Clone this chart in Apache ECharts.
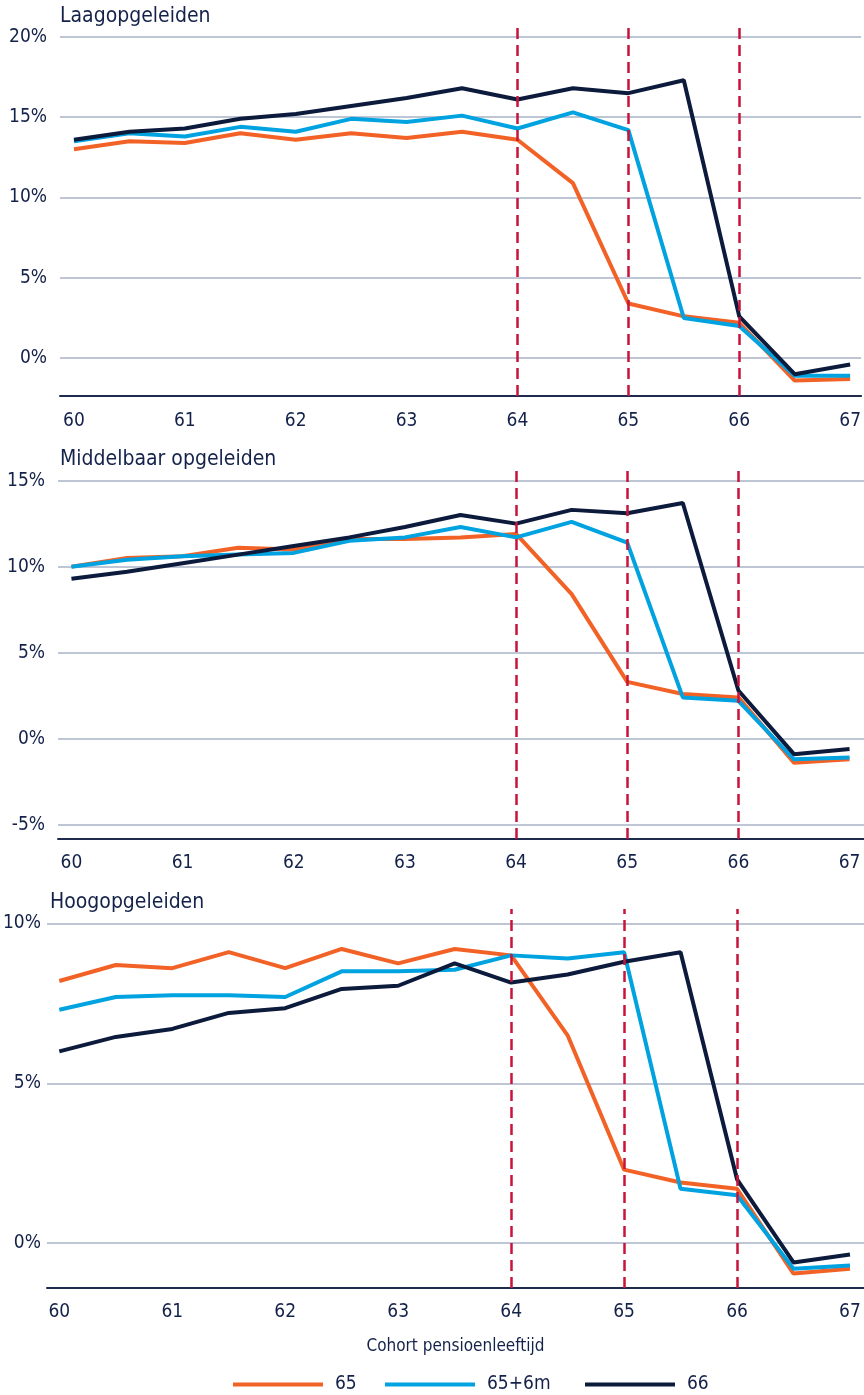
<!DOCTYPE html>
<html>
<head>
<meta charset="utf-8">
<script src="https://cdn.jsdelivr.net/npm/echarts@6/dist/echarts.min.js"></script>
<style>
  html, body { margin: 0; padding: 0; background: #fff; }
  #mychart { width: 864px; height: 1395px; }
</style>
</head>
<body>
<div id="mychart"></div>
<script>
  // leeftijden (cohort pensioenleeftijd), stappen van een half jaar
  const ages = [60, 60.5, 61, 61.5, 62, 62.5, 63, 63.5, 64, 64.5, 65, 65.5, 66, 66.5, 67]
  const cutoffs = [64, 65, 66] // rode stippellijnen
  const seriesNames = ['65', '65+6m', '66']
  const panelTitles = ['Laagopgeleiden', 'Middelbaar opgeleiden', 'Hoogopgeleiden']
  const xName = 'Cohort pensioenleeftijd'

  // Laagopgeleiden
  const laag65 = [13.0, 13.5, 13.4, 14.0, 13.6, 14.0, 13.7, 14.1, 13.6, 10.9, 3.4, 2.6, 2.2, -1.4, -1.3]
  const laag656m = [13.5, 14.0, 13.8, 14.4, 14.1, 14.9, 14.7, 15.1, 14.3, 15.3, 14.2, 2.5, 2.0, -1.1, -1.1]
  const laag66 = [13.6, 14.1, 14.3, 14.9, 15.2, 15.7, 16.2, 16.8, 16.1, 16.8, 16.5, 17.3, 2.6, -1.0, -0.4]

  // Middelbaar opgeleiden
  const midd65 = [10.0, 10.5, 10.6, 11.1, 11.0, 11.6, 11.6, 11.7, 11.9, 8.4, 3.3, 2.6, 2.4, -1.4, -1.2]
  const midd656m = [10.0, 10.4, 10.6, 10.7, 10.8, 11.5, 11.7, 12.3, 11.7, 12.6, 11.4, 2.4, 2.2, -1.2, -1.1]
  const midd66 = [9.3, 9.7, 10.2, 10.7, 11.2, 11.7, 12.3, 13.0, 12.5, 13.3, 13.1, 13.7, 2.8, -0.9, -0.6]

  // Hoogopgeleiden
  const hoog65 = [8.2, 8.7, 8.6, 9.1, 8.6, 9.2, 8.75, 9.2, 9.0, 6.5, 2.3, 1.9, 1.7, -0.95, -0.8]
  const hoog656m = [7.3, 7.7, 7.75, 7.75, 7.7, 8.5, 8.5, 8.55, 9.0, 8.9, 9.1, 1.7, 1.5, -0.8, -0.7]
  const hoog66 = [6.0, 6.45, 6.7, 7.2, 7.35, 7.95, 8.05, 8.75, 8.15, 8.4, 8.8, 9.1, 2.0, -0.6, -0.35]

  const panelData = [
    [laag65, laag656m, laag66],
    [midd65, midd656m, midd66],
    [hoog65, hoog656m, hoog66],
  ]

  const colors = ['#F26226', '#00A3E0', '#0C1A3C']
  const textColor = '#14224A'
  const font = "'Liberation Sans Narrow', 'DejaVu Sans Condensed', sans-serif"

  // layout per paneel
  const layout = [
    { left: 60, top: 22, width: 804, height: 374, xMin: 59.874, xMax: 67.099, yMin: -2.36, yMax: 20.93, split: 5, yMargin: 13, xMargin: 16, titleLeft: 60, titleTop: 6 },
    { left: 58, top: 466, width: 806, height: 373, xMin: 59.879, xMax: 67.13, yMin: -5.83, yMax: 15.85, split: 5, yMargin: 13, xMargin: 15, titleLeft: 60, titleTop: 449 },
    { left: 46, top: 909, width: 818, height: 379, xMin: 59.891, xMax: 67.124, yMin: -1.4, yMax: 10.45, split: 2, yMargin: 6, xMargin: 15, titleLeft: 50, titleTop: 892 },
  ]
  // legenda: linkerkant van elk item
  const legendLeft = [233, 385, 585]

  const grid = []
  const xAxis = []
  const yAxis = []
  const title = []
  const series = []

  layout.forEach((p, gi) => {
    grid.push({ left: p.left, top: p.top, width: p.width, height: p.height })
    title.push({
      text: panelTitles[gi],
      left: p.titleLeft,
      top: p.titleTop,
      padding: 0,
      textStyle: { fontFamily: font, fontSize: 21, fontWeight: 'normal', color: textColor },
    })
    xAxis.push({
      type: 'value',
      gridIndex: gi,
      min: p.xMin,
      max: p.xMax,
      splitNumber: 7,
      axisLine: { onZero: false, lineStyle: { color: '#1F2B4D', width: 2 } },
      axisTick: { show: false },
      splitLine: { show: false },
      axisLabel: {
        showMinLabel: false,
        showMaxLabel: false,
        margin: p.xMargin,
        fontFamily: font,
        fontSize: 19,
        color: textColor,
      },
      name: gi === 2 ? xName : '',
      nameLocation: 'middle',
      nameGap: 50,
      nameTextStyle: { fontFamily: font, fontSize: 17, color: textColor },
    })
    yAxis.push({
      type: 'value',
      gridIndex: gi,
      min: p.yMin,
      max: p.yMax,
      splitNumber: p.split,
      axisLine: { show: false },
      axisTick: { show: false },
      axisLabel: {
        formatter: '{value}%',
        showMinLabel: false,
        showMaxLabel: false,
        margin: p.yMargin,
        fontFamily: font,
        fontSize: 19,
        color: textColor,
      },
      splitLine: {
        showMinLine: false,
        showMaxLine: false,
        lineStyle: { color: '#A8B2C7', width: 1.5 },
      },
    })
    panelData[gi].forEach((vals, si) => {
      const s = {
        name: seriesNames[si],
        type: 'line',
        xAxisIndex: gi,
        yAxisIndex: gi,
        data: ages.map((a, i) => [a, vals[i]]),
        symbol: 'none',
        color: colors[si],
        lineStyle: { width: 4, color: colors[si] },
      }
      if (si === 0) {
        s.markLine = {
          silent: true,
          symbol: 'none',
          label: { show: false },
          lineStyle: { color: '#C8133A', type: [11, 6], width: 2.5 },
          data: cutoffs.map((c) => ({ xAxis: c })),
        }
      }
      series.push(s)
    })
  })

  const legend = seriesNames.map((n, i) => ({
    data: [n],
    left: legendLeft[i],
    top: 1375,
    padding: 0,
    icon: 'rect',
    itemWidth: 90,
    itemHeight: 4,
    textStyle: { fontFamily: font, fontSize: 19, color: textColor, padding: [0, 0, 0, 7] },
  }))

  const option = {
    animation: false,
    title: title,
    grid: grid,
    xAxis: xAxis,
    yAxis: yAxis,
    legend: legend,
    series: series,
  }

  const myChart = echarts.init(document.getElementById('mychart'))
  myChart.setOption(option)
</script>
</body>
</html>
